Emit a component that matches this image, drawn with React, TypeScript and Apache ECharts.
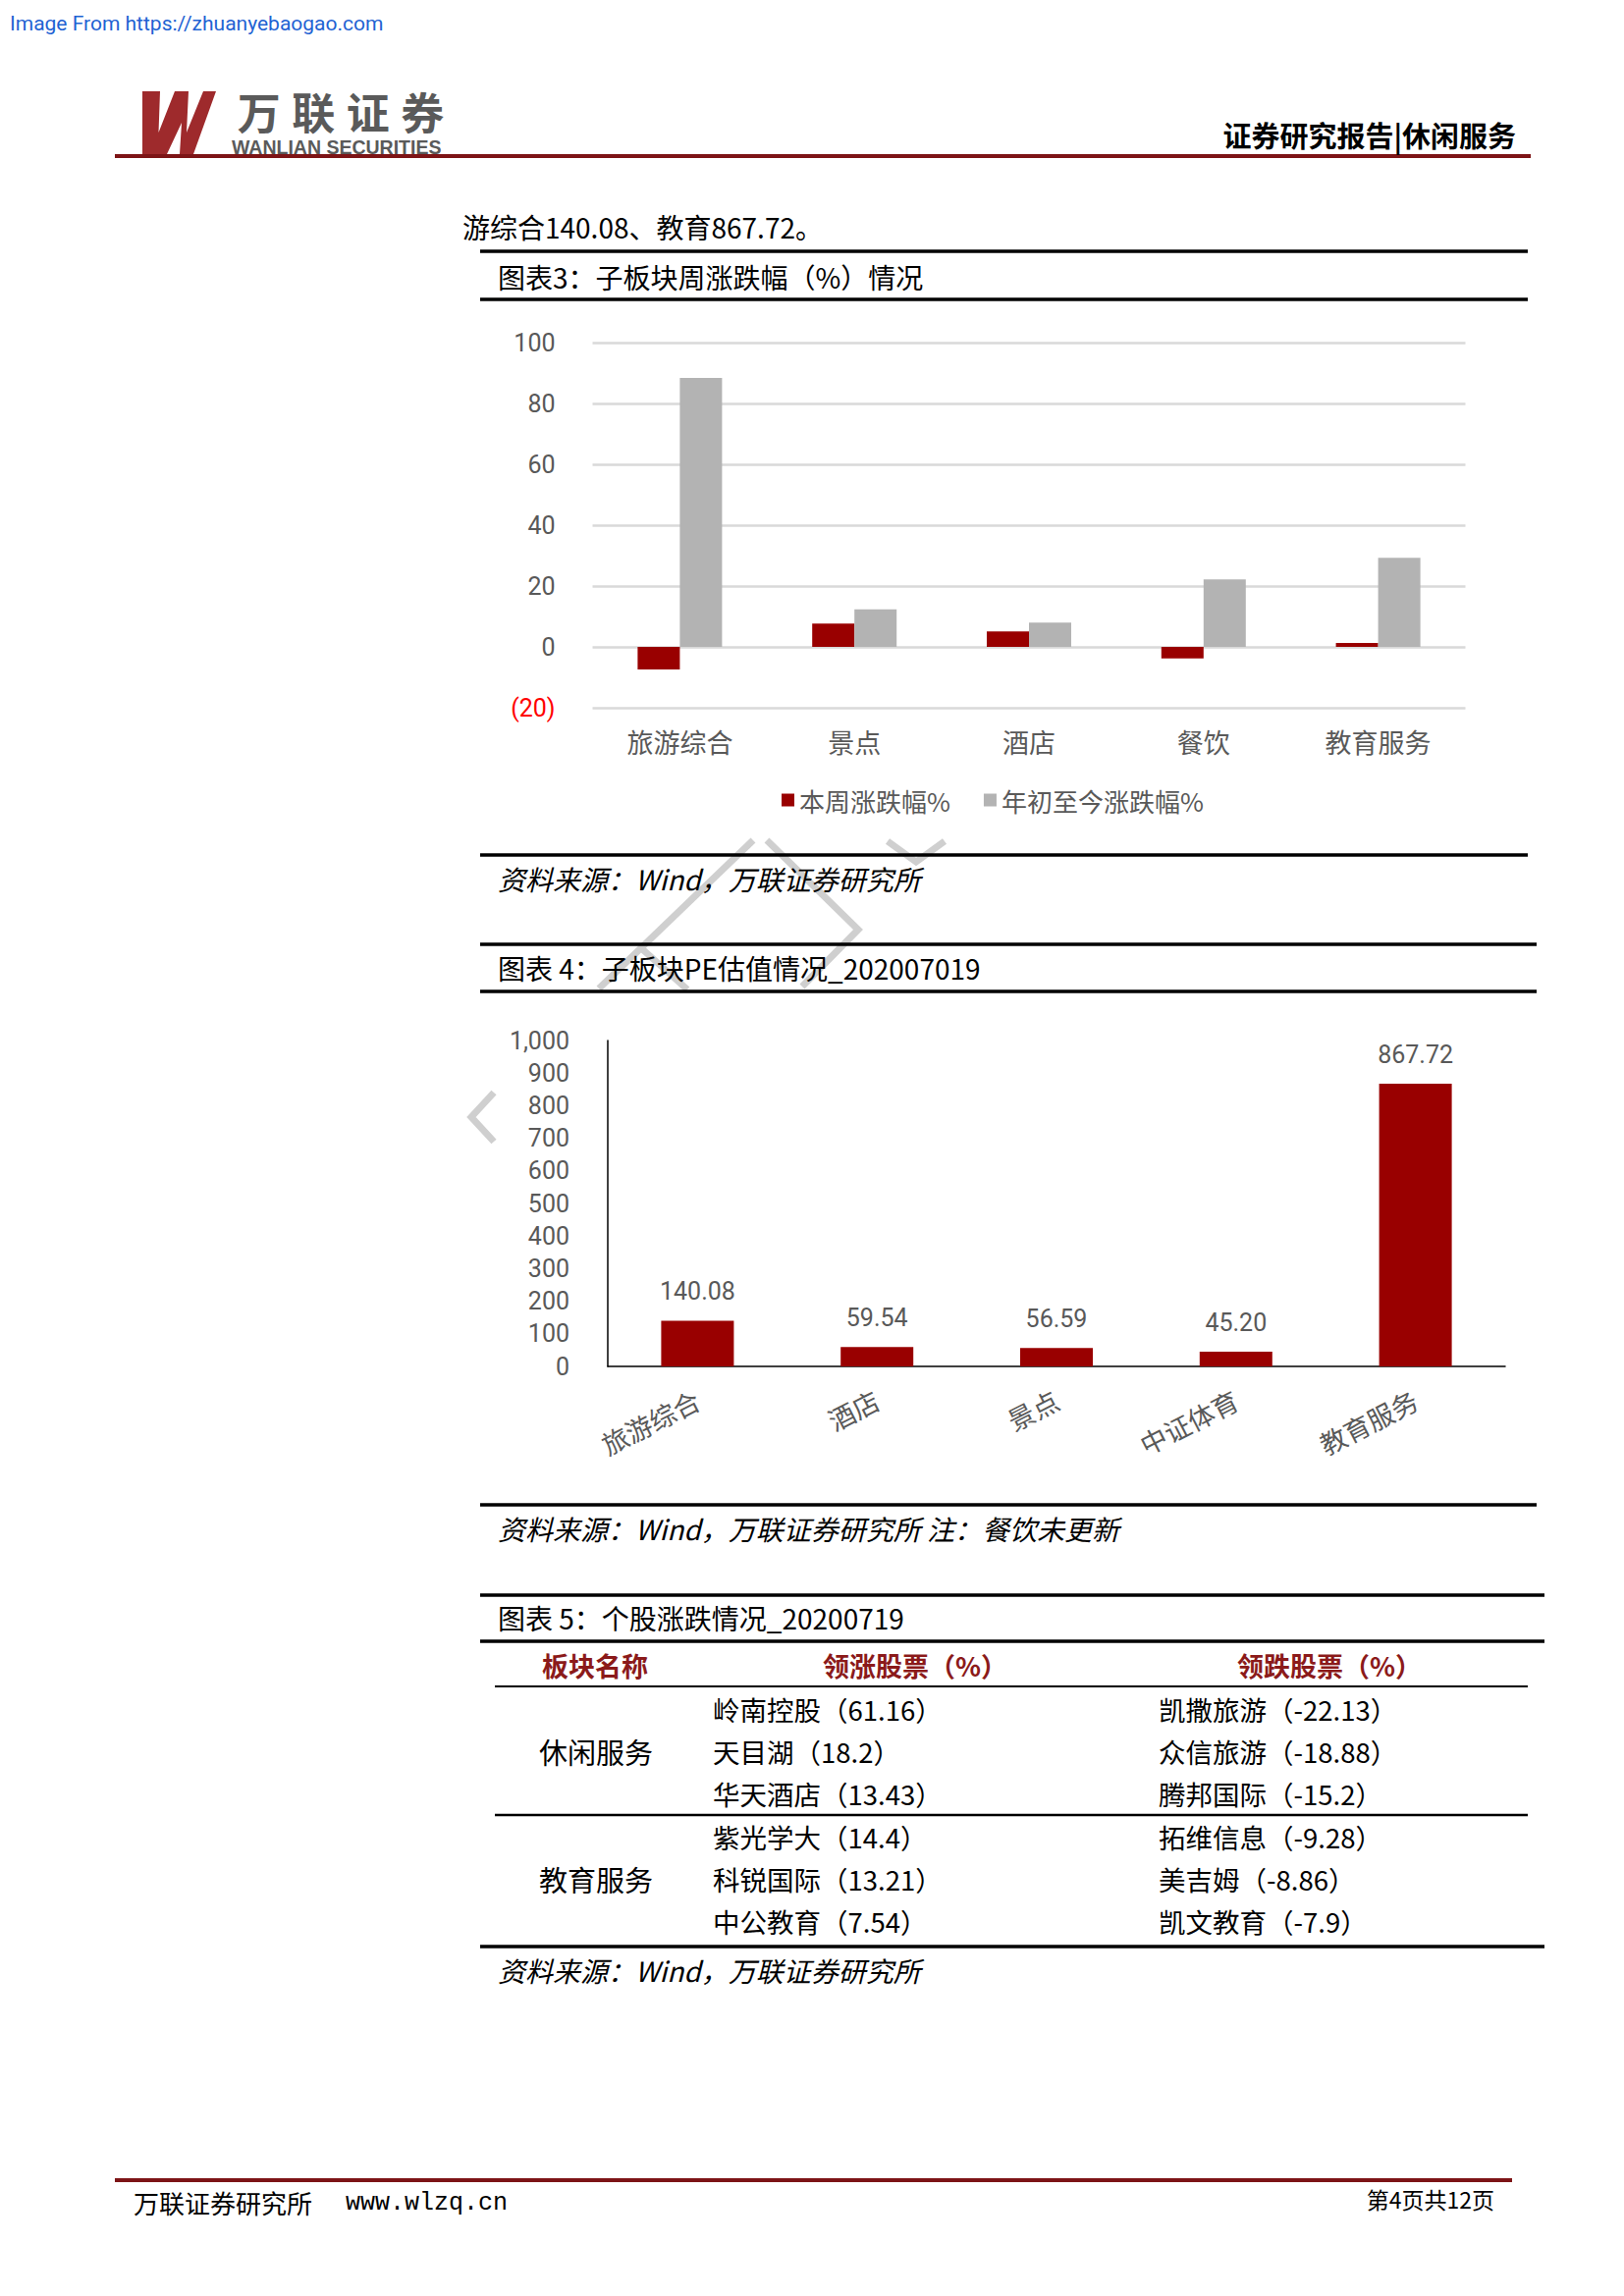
import React, { useEffect, useRef } from "react";
import * as echarts from "echarts";

// ---------- data ----------
const cat3 = ["旅游综合", "景点", "酒店", "餐饮", "教育服务"];
const weekChange = [-7.4, 7.7, 5.1, -3.8, 1.3];
const ytdChange = [88.4, 12.3, 8.0, 22.2, 29.3];
const seriesNames3 = ["本周涨跌幅%", "年初至今涨跌幅%"];

const cat4 = ["旅游综合", "酒店", "景点", "中证体育", "教育服务"];
const peValues = [140.08, 59.54, 56.59, 45.2, 867.72];

const tableHeaders = ["板块名称", "领涨股票（%）", "领跌股票（%）"];
const sectors = ["休闲服务", "教育服务"];
const gainers = [
  ["岭南控股（61.16）", "天目湖（18.2）", "华天酒店（13.43）"],
  ["紫光学大（14.4）", "科锐国际（13.21）", "中公教育（7.54）"],
];
const losers = [
  ["凯撒旅游（-22.13）", "众信旅游（-18.88）", "腾邦国际（-15.2）"],
  ["拓维信息（-9.28）", "美吉姆（-8.86）", "凯文教育（-7.9）"],
];

const FONT = '"Noto Sans CJK SC", "Noto Sans", sans-serif';
const NUMFONT = 'Roboto, "Noto Sans CJK SC", sans-serif';
const MONO = '"Liberation Mono", "DejaVu Sans Mono", monospace';
const RED = "#990000";
const GRAY = "#b3b3b3";
const TXT = "#595959";

function T(x: number, y: number, text: string, o: any = {}) {
  return {
    type: "text",
    x,
    y,
    z: 20,
    style: {
      text,
      fill: "#000",
      fontSize: 27,
      fontFamily: FONT,
      align: "left",
      verticalAlign: "middle",
      ...o,
    },
  };
}
function L(x1: number, y: number, x2: number, w: number, color = "#000") {
  return {
    type: "line",
    z: 15,
    shape: { x1, y1: y, x2, y2: y },
    style: { stroke: color, lineWidth: w },
  };
}
function WM(points: number[][]) {
  return {
    type: "polyline",
    z: 1,
    shape: { points },
    style: { stroke: "#cfcfcf", lineWidth: 7, fill: null },
  };
}

export default function App() {
  const ref = useRef<HTMLDivElement>(null);
  useEffect(() => {
    if (!ref.current) return;
    const chart = echarts.init(ref.current, undefined, { renderer: "svg" });

    const g: any[] = [];
    // watermark fragments
    g.push(WM([[767, 856], [610, 1007]]));
    g.push(WM([[781, 856], [874, 947], [817, 1005]]));
    g.push(WM([[904, 857], [933, 878], [962, 857]]));
    g.push(WM([[652, 965], [700, 1008]]));
    g.push(WM([[503, 1113], [480, 1138], [503, 1163]]));

    // header
    g.push(T(10, 24, "Image From https://zhuanyebaogao.com", { fill: "#1f63d3", fontSize: 21, fontFamily: NUMFONT }));
    g.push({
      type: "polygon",
      z: 20,
      shape: {
        points: [
          [145, 93], [163, 93], [161.5, 135], [178, 93], [192, 93], [190, 135], [207, 93], [220, 93],
          [197, 157], [183, 157], [185, 125], [170, 157], [145, 157],
        ],
      },
      style: { fill: "#9e2a2c" },
    });
    "万联证券".split("").forEach((ch, i) =>
      g.push(T(236 + 27.75 * (2 * i + 1), 113, ch, { fill: "#5a5a5a", fontSize: 44, fontWeight: "bold", align: "center" }))
    );
    g.push(T(236, 150, "WANLIAN SECURITIES", { fill: "#5a5a5a", fontSize: 19.5, fontWeight: "bold", fontFamily: '"Liberation Sans", Arial, sans-serif' }));
    g.push(T(1544, 137, "证券研究报告|休闲服务", { fontSize: 29, fontWeight: "bold", align: "right" }));
    g.push(L(117, 159, 1559, 4, "#7d1416"));

    // intro text
    g.push(T(471, 231, "游综合140.08、教育867.72。", { fontSize: 28 }));

    // chart 3 frame
    g.push(L(489, 256, 1556, 3.5));
    g.push(T(507, 282, "图表3：子板块周涨跌幅（%）情况", { fontSize: 28 }));
    g.push(L(489, 305, 1556, 3.5));
    g.push(L(489, 871, 1556, 3.5));
    g.push(T(507, 895, "资料来源：Wind，万联证券研究所", { fontSize: 28, fontStyle: "italic" }));

    // chart 4 frame
    g.push(L(489, 962, 1565, 3.5));
    g.push(T(507, 986, "图表 4：子板块PE估值情况_202007019", { fontSize: 28 }));
    g.push(L(489, 1010, 1565, 3.5));
    g.push(L(489, 1533, 1565, 3.5));
    g.push(T(507, 1557, "资料来源：Wind，万联证券研究所 注：餐饮未更新", { fontSize: 28, fontStyle: "italic" }));

    // table
    g.push(L(489, 1625, 1573, 3.5));
    g.push(T(507, 1648, "图表 5：个股涨跌情况_20200719", { fontSize: 28 }));
    g.push(L(489, 1672, 1573, 3.5));
    const hx = [606, 932, 1354];
    tableHeaders.forEach((h, i) =>
      g.push(T(hx[i], 1696, h, { fontSize: 27, fontWeight: "bold", fill: "#8b1a1a", align: "center" }))
    );
    g.push(L(504, 1718, 1556, 2));
    const rowYs = [
      [1741, 1784, 1827],
      [1871, 1914, 1957],
    ];
    sectors.forEach((s, si) => {
      g.push(T(607, rowYs[si][1], s, { fontSize: 29, align: "center" }));
      gainers[si].forEach((t, ri) => g.push(T(726, rowYs[si][ri], t, { fontSize: 27.5 })));
      losers[si].forEach((t, ri) => g.push(T(1180, rowYs[si][ri], t, { fontSize: 27.5 })));
    });
    g.push(L(504, 1849, 1556, 2.5));
    g.push(L(489, 1983, 1573, 3.5));
    g.push(T(507, 2007, "资料来源：Wind，万联证券研究所", { fontSize: 28, fontStyle: "italic" }));

    // footer
    g.push(L(117, 2221, 1540, 4, "#7d1416"));
    g.push(T(136, 2243, "万联证券研究所", { fontSize: 26 }));
    g.push(T(352, 2244, "www.wlzq.cn", { fontSize: 25, fontFamily: MONO }));
    g.push(T(1522, 2240, "第4页共12页", { fontSize: 23, align: "right" }));

    chart.setOption({
      animation: false,
      backgroundColor: "#ffffff",
      textStyle: { fontFamily: FONT },
      grid: [
        { left: 603.5, top: 349, width: 889, height: 372 },
        { left: 619, top: 1060, width: 914, height: 332 },
      ],
      legend: {
        data: seriesNames3,
        left: 791,
        top: 797,
        icon: "rect",
        itemWidth: 13,
        itemHeight: 13,
        itemGap: 34,
        textStyle: { color: TXT, fontSize: 26, fontFamily: FONT },
      },
      xAxis: [
        {
          gridIndex: 0,
          type: "category",
          data: cat3,
          axisLine: { show: false },
          axisTick: { show: false },
          axisLabel: { color: TXT, fontSize: 27, fontFamily: FONT, margin: 21 },
        },
        {
          gridIndex: 1,
          type: "category",
          data: cat4,
          axisLine: { show: true, lineStyle: { color: "#000", width: 1.5 } },
          axisTick: { show: false },
          axisLabel: { color: TXT, fontSize: 27, fontFamily: FONT, rotate: 27, margin: 32 },
        },
      ],
      yAxis: [
        {
          gridIndex: 0,
          type: "value",
          min: -20,
          max: 100,
          interval: 20,
          axisLine: { show: false },
          axisTick: { show: false },
          splitLine: { lineStyle: { color: "#d9d9d9", width: 2.5 } },
          axisLabel: {
            margin: 38,
            fontSize: 25,
            fontFamily: NUMFONT,
            color: (v: any) => (Number(v) < 0 ? "#ff0000" : TXT),
            formatter: (v: number) => (v < 0 ? `(${-v})` : `${v}`),
          },
        },
        {
          gridIndex: 1,
          type: "value",
          min: 0,
          max: 1000,
          interval: 100,
          axisLine: { show: true, lineStyle: { color: "#000", width: 1.5 } },
          axisTick: { show: false },
          splitLine: { show: false },
          axisLabel: {
            margin: 39,
            fontSize: 25,
            fontFamily: NUMFONT,
            color: TXT,
            formatter: (v: number) => v.toLocaleString("en-US"),
          },
        },
      ],
      series: [
        {
          name: seriesNames3[0],
          type: "bar",
          xAxisIndex: 0,
          yAxisIndex: 0,
          data: weekChange,
          barWidth: 43,
          barGap: "0%",
          itemStyle: { color: RED },
        },
        {
          name: seriesNames3[1],
          type: "bar",
          xAxisIndex: 0,
          yAxisIndex: 0,
          data: ytdChange,
          barWidth: 43,
          barGap: "0%",
          itemStyle: { color: GRAY },
        },
        {
          name: "子板块PE",
          type: "bar",
          xAxisIndex: 1,
          yAxisIndex: 1,
          data: peValues,
          barWidth: 74,
          itemStyle: { color: RED },
          label: {
            show: true,
            position: "top",
            distance: 17,
            color: TXT,
            fontSize: 25,
            fontFamily: NUMFONT,
            formatter: (p: any) => Number(p.value).toFixed(2),
          },
        },
      ],
      graphic: { elements: g },
    });
    return () => chart.dispose();
  }, []);

  return (
    <div
      ref={ref}
      style={{ position: "absolute", left: 0, top: 0, width: 1654, height: 2339, background: "#fff" }}
    />
  );
}
